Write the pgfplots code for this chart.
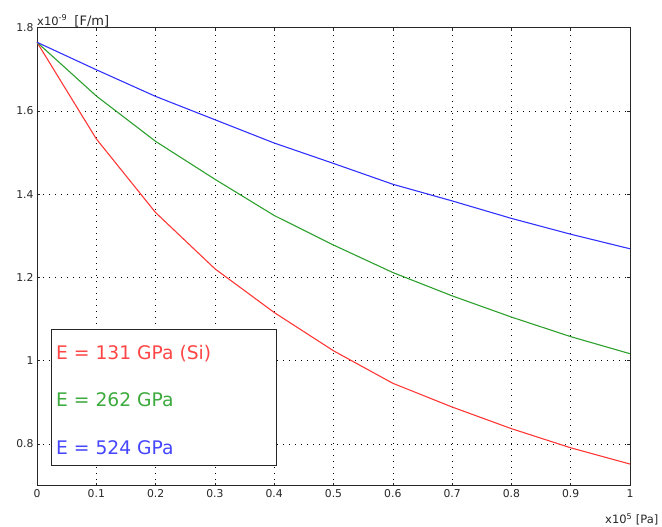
\documentclass[border=0pt]{standalone}
\usepackage{fontspec}
\setmainfont{DejaVu Sans}
\usepackage{pgfplots}
\pgfplotsset{compat=1.18}
\usepackage{pgfplotstable}

\definecolor{cred}{RGB}{255,55,55}
\definecolor{cgreen}{RGB}{45,160,45}
\definecolor{cblue}{RGB}{50,50,255}
\definecolor{lred}{RGB}{255,70,70}
\definecolor{lgreen}{RGB}{60,170,60}
\definecolor{lblue}{RGB}{70,70,255}

% pressure [x10^5 Pa] vs capacitance [x10^-9 F/m]
\pgfplotstableread{
x     e131   e262   e524
0.0   1.765  1.765  1.765
0.1   1.533  1.636  1.699
0.2   1.356  1.527  1.635
0.3   1.221  1.436  1.579
0.4   1.116  1.349  1.523
0.5   1.024  1.278  1.474
0.6   0.946  1.212  1.424
0.7   0.889  1.156  1.384
0.8   0.837  1.105  1.342
0.9   0.791  1.058  1.304
1.0   0.752  1.017  1.269
}\captable

\begin{document}
\begin{tikzpicture}
\useasboundingbox (-37pt,-41.3pt) rectangle (625pt,485.7pt);
\begin{axis}[
  scale only axis,
  width=593pt, height=458pt,
  xmin=0, xmax=1,
  ymin=0.7, ymax=1.8,
  xtick={0,0.1,...,1.01},
  ytick={0.8,1,1.2,1.4,1.6,1.8},
  grid=major,
  major grid style={black, line width=0.6pt, dash pattern=on 0.8pt off 5.2pt},
  axis line style={black!85, line width=0.8pt},
  tick style={black!85, line width=0.6pt},
  major tick length=3pt,
  tick align=inside,
  ticklabel style={font=\fontsize{10.8}{13}\selectfont, text=black!85},
  /pgf/number format/assume math mode=true,
  clip=false,
]
\addplot[cred, line width=1.1pt] table[x=x, y=e131] {\captable};
\addplot[cgreen, line width=1.1pt] table[x=x, y=e262] {\captable};
\addplot[cblue, line width=1.1pt] table[x=x, y=e524] {\captable};

% unit labels
\node[anchor=base west, inner sep=0, font=\fontsize{11.5}{13}\selectfont, text=black!85]
  at ([yshift=2.5pt]rel axis cs:0,1) {x10\textsuperscript{-9}\ \ \fontsize{13}{15}\selectfont[F/m]};
\node[anchor=base west, inner sep=0, font=\fontsize{11.5}{13}\selectfont, text=black!85]
  at ([xshift=-25pt, yshift=-38.3pt]rel axis cs:1,0) {x10\textsuperscript{5} [Pa]};

% legend box
\draw[black!85, line width=0.8pt, fill=white] (axis cs:0.0248,0.748) rectangle (axis cs:0.404,1.076);
\node[anchor=base west, inner sep=0, font=\fontsize{18.7}{20}\selectfont, text=lred]
  at (axis cs:0.032,1.002) {E = 131 GPa (Si)};
\node[anchor=base west, inner sep=0, font=\fontsize{18.7}{20}\selectfont, text=lgreen]
  at (axis cs:0.032,0.8905) {E = 262 GPa};
\node[anchor=base west, inner sep=0, font=\fontsize{18.7}{20}\selectfont, text=lblue]
  at (axis cs:0.032,0.776) {E = 524 GPa};
\end{axis}
\end{tikzpicture}
\end{document}
